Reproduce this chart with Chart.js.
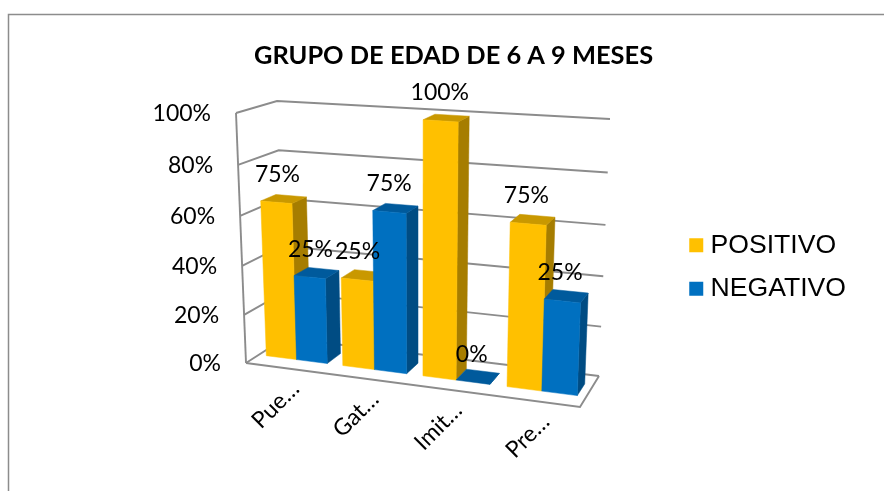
<!DOCTYPE html>
<html><head><meta charset="utf-8">
<style>html,body{margin:0;padding:0;background:#fff}#w{position:absolute;left:0;top:0;width:884px;height:491px}</style>
<script src="https://cdn.jsdelivr.net/npm/chart.js@4"></script>
</head><body><div id="w"><canvas id="c" width="884" height="491"></canvas></div>
<script>
const categories = ['Pue…','Gat…','Imit…','Pre…'];
const positivoValues = [64,36,100,64];
const negativoValues = [35,64,0,36];
const positivoLabels = ['75%','25%','100%','75%'];
const negativoLabels = ['25%','75%','0%','25%'];
const yTicks = {min:0,max:100,step:20};
const title = 'GRUPO DE EDAD DE 6 A 9 MESES';

// Projection of the 3D box: corners [x,y] for (u,v,w)
const C = {
  f0b:[246,363], f1b:[580,407], b0b:[285,338], b1b:[599,376],
  f0t:[236,113], f1t:[589,136], b0t:[277,101], b1t:[610,119]
};
const KU=1.1, KV=1.05, W1=0.33, W2=0.71;
const sk=(t,k)=>t/(t+k*(1-t));
const mix=(a,b,t)=>[a[0]+(b[0]-a[0])*t,a[1]+(b[1]-a[1])*t];
function P(u,v,w){
  const a=sk(u,KU), b=sk(v,KV);
  const fb=mix(C.f0b,C.f1b,a), ft=mix(C.f0t,C.f1t,a), bb=mix(C.b0b,C.b1b,a), bt=mix(C.b0t,C.b1t,a);
  return mix(mix(fb,ft,b),mix(bb,bt,b),w);
}
function poly(ctx,pts,fill){
  ctx.beginPath();pts.forEach((p,i)=>i?ctx.lineTo(p[0],p[1]):ctx.moveTo(p[0],p[1]));ctx.closePath();
  ctx.fillStyle=fill;ctx.fill();ctx.strokeStyle=fill;ctx.lineWidth=0.5;ctx.stroke();
}
function seg(ctx,pts){
  ctx.beginPath();pts.forEach((p,i)=>i?ctx.lineTo(p[0],p[1]):ctx.moveTo(p[0],p[1]));ctx.stroke();
}
const palette=[{front:'#FFC000',side:'#A67D00',top:'#C99800'},{front:'#0070C0',side:'#004C83',top:'#005A9C'}];
const pointLabels=[positivoLabels,negativoLabels];

const box3d={
  id:'box3d',
  beforeDraw(chart){
    const ctx=chart.ctx;
    ctx.save();ctx.fillStyle='#fff';ctx.fillRect(0,0,chart.width,chart.height);
    ctx.strokeStyle='#8c8c8c';ctx.lineWidth=1.5;
    seg(ctx,[[8.5,chart.height],[8.5,14.5],[chart.width,14.5]]);
    ctx.restore();
  },
  beforeDatasetsDraw(chart){
    const ctx=chart.ctx, a=chart.chartArea, ys=chart.scales.y, xs=chart.scales.x;
    const nv=px=>(a.bottom-px)/(a.bottom-a.top), nu=px=>(px-a.left)/(a.right-a.left);
    ctx.save();
    // walls and floor
    ctx.strokeStyle='#8c8c8c';ctx.lineWidth=1.9;ctx.lineJoin='miter';
    ys.ticks.forEach(t=>{
      const v=nv(ys.getPixelForValue(t.value));
      seg(ctx,[P(0,v,0),P(0,v,1),P(1,v,1)]);
    });
    seg(ctx,[P(0,0,0),P(0,1,0)]);
    seg(ctx,[P(0,0,0),P(1,0,0),P(1,0,1)]);
    // y tick labels
    ctx.fillStyle='#000';ctx.font='23px Lato';ctx.textAlign='right';ctx.textBaseline='middle';
    ys.ticks.forEach(t=>{
      const v=nv(ys.getPixelForValue(t.value)), p=P(0,v,0);
      ctx.fillText(t.label,p[0]-25,p[1]+0.5);
    });
    // bars
    const n=categories.length;
    for(let i=0;i<n;i++){
      chart.data.datasets.forEach((ds,d)=>{
        const el=chart.getDatasetMeta(d).data[i], col=palette[d];
        const u1=nu(el.x-el.width/2), u2=nu(el.x+el.width/2), v=nv(el.y);
        poly(ctx,[P(u2,0,W1),P(u2,v,W1),P(u2,v,W2),P(u2,0,W2)],col.side);
        poly(ctx,[P(u1,v,W1),P(u2,v,W1),P(u2,v,W2),P(u1,v,W2)],col.top);
        if(v>0) poly(ctx,[P(u1,0,W1),P(u2,0,W1),P(u2,v,W1),P(u1,v,W1)],col.front);
      });
    }
    // data labels
    ctx.fillStyle='#000';ctx.font='23px Lato';ctx.textAlign='center';ctx.textBaseline='middle';
    for(let i=0;i<n;i++){
      chart.data.datasets.forEach((ds,d)=>{
        const el=chart.getDatasetMeta(d).data[i], u=nu(el.x);
        const p=P(u,nv(el.y),W1);
        ctx.fillText(pointLabels[d][i],p[0]+1.5-4*u,p[1]-28);
      });
    }
    // category labels
    ctx.font='23px Lato';ctx.textAlign='right';ctx.textBaseline='middle';
    xs.ticks.forEach((t,i)=>{
      const p=P(nu(xs.getPixelForTick(i)),0,0);
      ctx.save();ctx.translate(p[0]+11,p[1]+17);ctx.rotate(-Math.PI/4);
      ctx.fillText(categories[i],0,0);ctx.restore();
    });
    ctx.restore();
    return false;
  }
};

new Chart(document.getElementById('c'),{
  type:'bar',
  data:{labels:categories,datasets:[
    {label:'POSITIVO',data:positivoValues,backgroundColor:palette[0].front,pointStyle:'rect'},
    {label:'NEGATIVO',data:negativoValues,backgroundColor:palette[1].front,pointStyle:'rect'}
  ]},
  plugins:[box3d],
  options:{
    responsive:false,animation:false,
    layout:{padding:{left:51,right:28,top:43,bottom:0}},
    datasets:{bar:{categoryPercentage:0.8,barPercentage:1}},
    scales:{
      x:{offset:true,grid:{display:false},border:{display:false},ticks:{display:false}},
      y:{min:yTicks.min,max:yTicks.max,ticks:{display:false,stepSize:yTicks.step,callback:v=>v+'%'},grid:{display:false},border:{display:false}}
    },
    plugins:{
      title:{display:true,text:title,color:'#000',font:{family:'Lato',size:25.4,weight:'bold',lineHeight:1},padding:{top:0,bottom:4}},
      legend:{position:'right',align:'center',onClick:null,
        labels:{usePointStyle:true,boxWidth:2,boxHeight:14,padding:17,color:'#000',font:{family:'"Liberation Sans"',size:26.6}}},
      tooltip:{enabled:false}
    }
  }
});
</script></body></html>
